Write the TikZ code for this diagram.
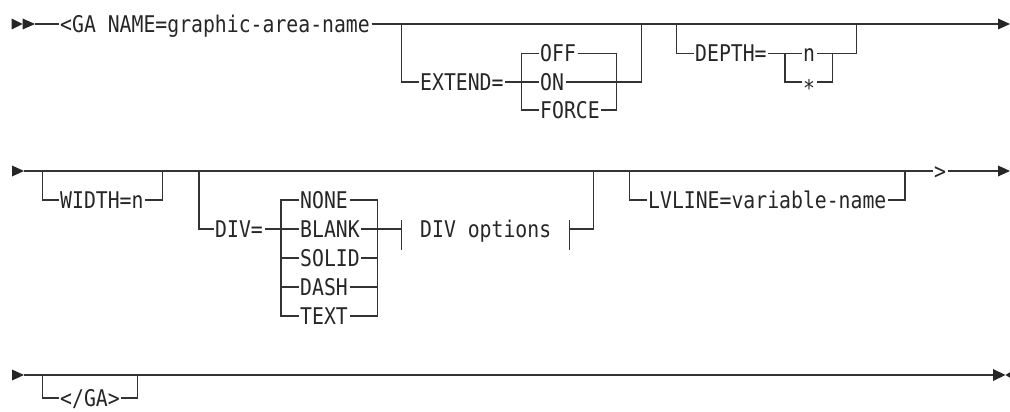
\documentclass[tikz,border=0pt]{standalone}
\usepackage{fontspec}
\newfontfamily\rrfont[FakeStretch=0.86]{DejaVu Sans Mono}
\begin{document}
\begin{tikzpicture}[x=1pt,y=-1pt,
  rail/.style={line width=1.1pt, draw=black!80},
  lbl/.style={anchor=west, inner xsep=1.5pt, inner ysep=0pt, text height=16.8pt, text depth=0pt,
    font=\rrfont\fontsize{23}{25}\selectfont, text=black!85},
  tip/.style={fill=black!85}]
\useasboundingbox (0,0) rectangle (1010,412);

% ---------------- Row 1 ----------------
\fill[tip] (11.7,18.5) -- (22.7,24) -- (11.7,29.5) -- cycle;
\fill[tip] (22.7,18.5) -- (35,24) -- (22.7,29.5) -- cycle;
\coordinate (s1) at (35,24);
\coordinate (e1) at (999,24);
\node[lbl] (ga) at (58.5,24) {<GA NAME=graphic-area-name};
\draw[rail] (s1) -- (ga.west);
\draw[rail] (ga.east) -- (e1);
\fill[tip] (998,18.5) -- (1010,24) -- (998,29.5) -- cycle;

% EXTEND
\coordinate (xa) at (401.7,24);
\coordinate (xb) at (641.7,24);
\node[lbl] (ext) at (418.5,82) {EXTEND=};
\node[lbl] (off) at (538.5,53.5) {OFF};
\node[lbl] (on) at (538.5,82) {ON};
\node[lbl] (force) at (538.5,110) {FORCE};
\coordinate (cl1) at (521.7,53.5);
\coordinate (cr1) at (616.7,53.5);
\draw[rail] (xa) |- (ext.west);
\draw[rail] (ext.east) -- (on.west);
\draw[rail] (off.west) -- (cl1) |- (force.west);
\draw[rail] (off.east) -- (cr1) |- (force.east);
\draw[rail] (on.east) -| (xb);

% DEPTH
\coordinate (dpa) at (676.7,24);
\coordinate (dpb) at (856.7,24);
\node[lbl] (depth) at (693.5,53.5) {DEPTH=};
\node[lbl] (nn) at (801.5,53.5) {n};
\node[lbl] (star) at (801.5,82) {\raisebox{-6pt}{*}};
\coordinate (dl1) at (785,53.5);
\coordinate (dr1) at (832.7,53.5);
\draw[rail] (dpa) |- (depth.west);
\draw[rail] (depth.east) -- (nn.west);
\draw[rail] (dl1) |- (star.west);
\draw[rail] (star.east) -| (dr1);
\draw[rail] (nn.east) -| (dpb);

% ---------------- Row 2 ----------------
\fill[tip] (12,165.5) -- (24,171) -- (12,176.5) -- cycle;
\coordinate (s2) at (24,171);
\coordinate (e2) at (999,171);
\node[lbl] (gt) at (932.5,171) {>};
\draw[rail] (s2) -- (gt.west);
\draw[rail] (gt.east) -- (e2);
\fill[tip] (998,165.5) -- (1010,171) -- (998,176.5) -- cycle;

% WIDTH
\coordinate (wa) at (42.7,171);
\coordinate (wb) at (162.3,171);
\node[lbl] (width) at (58.5,200) {WIDTH=n};
\draw[rail] (wa) |- (width.west);
\draw[rail] (width.east) -| (wb);

% DIV
\coordinate (dva) at (199,171);
\node[lbl] (div) at (213.5,229) {DIV=};
\node[lbl] (none) at (298.5,200) {NONE};
\node[lbl] (blank) at (298.5,229) {BLANK};
\node[lbl] (solid) at (298.5,258) {SOLID};
\node[lbl] (dash) at (298.5,287) {DASH};
\node[lbl] (txt) at (298.5,316) {TEXT};
\coordinate (vl1) at (281,200);
\coordinate (vr1) at (377.7,200);
\draw[rail] (dva) |- (div.west);
\draw[rail] (div.east) -- (blank.west);
\draw[rail] (none.west) -- (vl1) |- (txt.west);
\draw[rail] (vl1 |- solid.west) -- (solid.west);
\draw[rail] (vl1 |- dash.west) -- (dash.west);
\draw[rail] (none.east) -- (vr1) |- (txt.east);
\draw[rail] (solid.east) -- (vr1 |- solid.east);
\draw[rail] (dash.east) -- (vr1 |- dash.east);
% DIV options fragment
\coordinate (t1) at (401.7,229);
\coordinate (t2) at (569.3,229);
\node[lbl] (opts) at (418.5,229) {DIV options};
\draw[rail] (blank.east) -- (t1);
\draw[rail] (401.7,220) -- (401.7,250);
\draw[rail] (569.3,220) -- (569.3,250);
\coordinate (dvb) at (593.3,171);
\draw[rail] (t2) -| (dvb);

% LVLINE
\coordinate (la) at (629.3,171);
\coordinate (lb) at (905,171);
\node[lbl] (lv) at (646.5,200) {LVLINE=variable-name};
\draw[rail] (la) |- (lv.west);
\draw[rail] (lv.east) -| (lb);

% ---------------- Row 3 ----------------
\fill[tip] (12,369.5) -- (24,375) -- (12,380.5) -- cycle;
\coordinate (s3) at (24,375);
\coordinate (e3) at (993.5,375);
\draw[rail] (s3) -- (e3);
\coordinate (ca) at (42.7,375);
\coordinate (cb) at (137.7,375);
\node[lbl] (endga) at (58.5,398) {</GA>};
\draw[rail] (ca) |- (endga.west);
\draw[rail] (endga.east) -| (cb);
\fill[tip] (993,369) -- (1005.5,375) -- (993,381) -- cycle;
\fill[tip] (1005.5,375) -- (1012,371) -- (1012,379) -- cycle;
\end{tikzpicture}
\end{document}
